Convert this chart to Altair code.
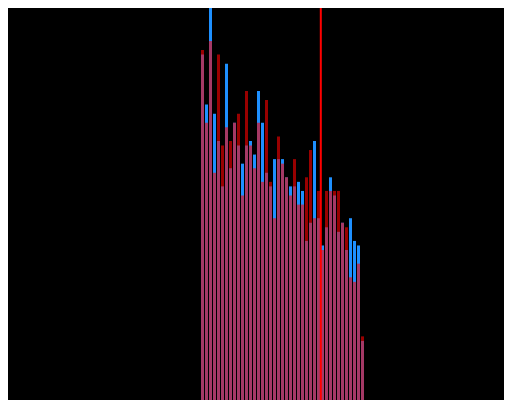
import altair as alt
import pandas as pd

# bin index (0..40), each bin spans [i, i+1)
bins = list(range(41))
blue_counts = [76, 65, 90, 63, 57, 47, 74, 51, 61, 56, 52, 56, 57, 54, 68, 61, 50, 47, 53, 53,
               53, 49, 47, 47, 48, 46, 35, 39, 57, 40, 34, 38, 49, 45, 37, 39, 33, 40, 35, 34, 13]
red_counts = [77, 61, 79, 50, 76, 56, 60, 57, 61, 63, 45, 68, 56, 51, 61, 48, 66, 48, 40, 58,
              52, 49, 45, 53, 43, 43, 49, 55, 40, 46, 33, 46, 46, 46, 46, 39, 38, 27, 26, 30, 14]
marker_value = [30.2]

blue_df = pd.DataFrame({"start": bins, "end": [b + 1 for b in bins], "count": blue_counts})
red_df = pd.DataFrame({"start": bins, "end": [b + 1 for b in bins], "count": red_counts})
rule_df = pd.DataFrame({"value": marker_value})

W, H = 496, 392
left_pad = 192
plot_w = 41 * 4

xscale = alt.Scale(domain=[0, 41], zero=False, nice=False)
yscale = alt.Scale(domain=[0, 86.25], zero=True, nice=False)

blue = alt.Chart(blue_df).mark_bar(color="#1E90FF").encode(
    x=alt.X("start:Q", bin="binned", scale=xscale, axis=None),
    x2="end:Q",
    y=alt.Y("count:Q", scale=yscale, axis=None),
)
red = alt.Chart(red_df).mark_bar(color="#FF0000", opacity=0.6).encode(
    x=alt.X("start:Q", bin="binned", scale=xscale, axis=None),
    x2="end:Q",
    y=alt.Y("count:Q", scale=yscale, axis=None),
)
rule = alt.Chart(rule_df).mark_rule(color="#FF0000", strokeWidth=2).encode(
    x=alt.X("value:Q", scale=xscale, axis=None),
)

chart = alt.layer(blue, red, rule).properties(
    width=plot_w,
    height=H,
    padding={"left": left_pad, "right": W - left_pad - plot_w, "top": 0, "bottom": 0},
    autosize=alt.AutoSizeParams(type="none"),
    background="black",
).configure_view(stroke=None)

chart.save("out.html", embed_options={"renderer": "svg", "actions": False})
